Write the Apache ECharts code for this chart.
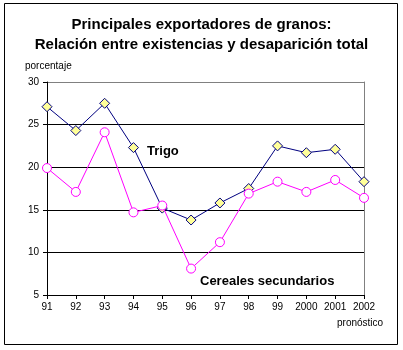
<!DOCTYPE html>
<html>
<head>
<meta charset="utf-8">
<script src="https://cdn.jsdelivr.net/npm/echarts@6/dist/echarts.min.js"></script>
<style>
  html, body { margin: 0; padding: 0; background: #fff; }
  #chart { width: 403px; height: 350px; }
</style>
</head>
<body>
<div id="chart"></div>
<script>
// Campaign years (last one is a forecast)
const years = ['91', '92', '93', '94', '95', '96', '97', '98', '99', '2000', '2001', '2002'];
// Stocks-to-use ratio, percent
const trigo = [27.1, 24.3, 27.5, 22.3, 15.2, 13.8, 15.8, 17.5, 22.5, 21.7, 22.1, 18.3];
const cereales = [19.9, 17.1, 24.1, 14.7, 15.5, 8.1, 11.2, 16.9, 18.3, 17.1, 18.5, 16.4];
const yTicks = [5, 10, 15, 20, 25, 30];

const font = '"Liberation Sans", Arial, sans-serif';
const chart = echarts.init(document.getElementById('chart'));

chart.setOption({
  animation: false,
  backgroundColor: '#fff',
  grid: { left: 47, top: 82, right: 39, bottom: 55 },
  title: {
    text: 'Principales exportadores de granos:\nRelación entre existencias y desaparición total',
    left: 'center',
    top: 10,
    textStyle: { fontFamily: font, fontSize: 15, fontWeight: 'bold', color: '#000', lineHeight: 20 }
  },
  xAxis: {
    type: 'category',
    data: years,
    boundaryGap: false,
    axisLine: { lineStyle: { color: '#000', width: 1 } },
    axisTick: { show: true, interval: 0, length: 4, lineStyle: { color: '#000' } },
    axisLabel: { color: '#000', fontFamily: font, fontSize: 10, margin: 7, interval: 0 },
    splitLine: { show: false }
  },
  yAxis: [{
    type: 'value',
    min: yTicks[0],
    max: yTicks[yTicks.length - 1],
    interval: 5,
    axisLine: { show: true, lineStyle: { color: '#000', width: 1 } },
    axisTick: { show: true, length: 4, lineStyle: { color: '#000' } },
    axisLabel: { color: '#000', fontFamily: font, fontSize: 10, margin: 8 },
    splitLine: {
      show: true,
      lineStyle: { color: ['#000', '#000', '#000', '#000', '#000', '#808080'], width: 1 }
    }
  }, {
    type: 'value',
    position: 'right',
    min: yTicks[0],
    max: yTicks[yTicks.length - 1],
    interval: 5,
    axisLine: { show: true, lineStyle: { color: '#808080', width: 1 } },
    axisTick: { show: false },
    axisLabel: { show: false },
    splitLine: { show: false }
  }],
  series: [{
    name: 'Cereales secundarios',
    type: 'line',
    data: cereales,
    symbol: 'circle',
    symbolSize: 9,
    lineStyle: { color: '#ff00ff', width: 1 },
    itemStyle: { color: '#fff', borderColor: '#ff00ff', borderWidth: 1 },
    z: 3
  }, {
    name: 'Trigo',
    type: 'line',
    data: trigo,
    symbol: 'diamond',
    symbolSize: 10,
    lineStyle: { color: '#000080', width: 1 },
    itemStyle: { color: '#ffff99', borderColor: '#000080', borderWidth: 1 },
    z: 2
  }],
  graphic: [
    {
      type: 'rect',
      shape: { x: 4.5, y: 3.5, width: 393, height: 341 },
      style: { fill: null, stroke: '#000', lineWidth: 1 },
      silent: true
    },
    {
      type: 'text', left: 25, top: 61,
      style: { text: 'porcentaje', font: '10px ' + font, fill: '#000' }
    },
    {
      type: 'text', left: 147, top: 145,
      style: { text: 'Trigo', font: 'bold 13px ' + font, fill: '#000' }
    },
    {
      type: 'text', left: 200, top: 275,
      style: { text: 'Cereales secundarios', font: 'bold 13px ' + font, fill: '#000' }
    },
    {
      type: 'text', left: 337, top: 318,
      style: { text: 'pronóstico', font: '10px ' + font, fill: '#000' }
    }
  ]
});
</script>
</body>
</html>
